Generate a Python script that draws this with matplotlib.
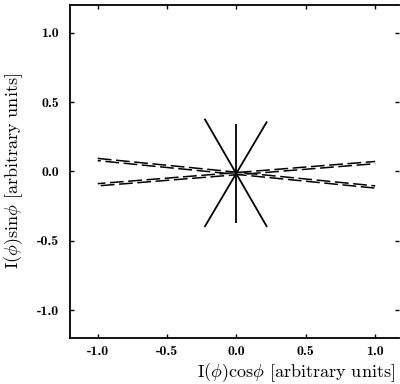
import matplotlib
matplotlib.use('Agg')
from matplotlib import pyplot as plt
import numpy as np

plt.rcParams['mathtext.fontset'] = 'cm'
plt.rcParams['axes.unicode_minus'] = False

# solid segments (start x, start y, end x, end y)
solid_x0 = [0.0, -0.23, 0.22]
solid_y0 = [0.34, 0.38, 0.36]
solid_x1 = [0.0, 0.22, -0.23]
solid_y1 = [-0.37, -0.40, -0.40]

# dashed segments, each drawn as a close pair
dash_x0 = [-1.0, -1.0, -1.0, -1.0]
dash_y0 = [0.094, 0.078, -0.088, -0.104]
dash_x1 = [1.0, 1.0, 1.0, 1.0]
dash_y1 = [-0.104, -0.120, 0.072, 0.056]

ticks = [-1.0, -0.5, 0.0, 0.5, 1.0]
tick_labels = ['-1.0', '-0.5', '0.0', '0.5', '1.0']

fig = plt.figure(figsize=(4.0, 3.84), dpi=100)
ax = fig.add_axes([0.175, 0.12, 0.822, 0.867])

for i in range(len(solid_x0)):
    ax.plot([solid_x0[i], solid_x1[i]], [solid_y0[i], solid_y1[i]],
            color='black', lw=1.3, solid_capstyle='butt')

offsets = [0, 7, 4, 10]
for i in range(len(dash_x0)):
    ax.plot([dash_x0[i], dash_x1[i]], [dash_y0[i], dash_y1[i]],
            color='black', lw=1.1, linestyle=(offsets[i], (9, 3)))

ax.set_xlim(-1.2, 1.17)
ax.set_ylim(-1.2, 1.2)
ax.set_xticks(ticks)
ax.set_yticks(ticks)
ax.set_xticklabels(tick_labels, family='cmb10', fontsize=10)
ax.set_yticklabels(tick_labels, family='cmb10', fontsize=10)
ax.tick_params(direction='in', length=3, width=1, top=True, right=True, pad=8)
ax.tick_params(axis='x', pad=6)
for s in ax.spines.values():
    s.set_linewidth(1.3)
ax.spines['right'].set_visible(False)

ax.set_xlabel(r'I($\phi$)cos$\phi$ [arbitrary units]', family='cmr10',
              fontsize=13, ha='right', va='top')
ax.xaxis.set_label_coords(0.988, -0.07)
ax.set_ylabel(r'I($\phi$)sin$\phi$ [arbitrary units]', family='cmr10',
              fontsize=13)
ax.yaxis.set_label_coords(-0.137, 0.5)

fig.savefig('out.png', dpi=100)
